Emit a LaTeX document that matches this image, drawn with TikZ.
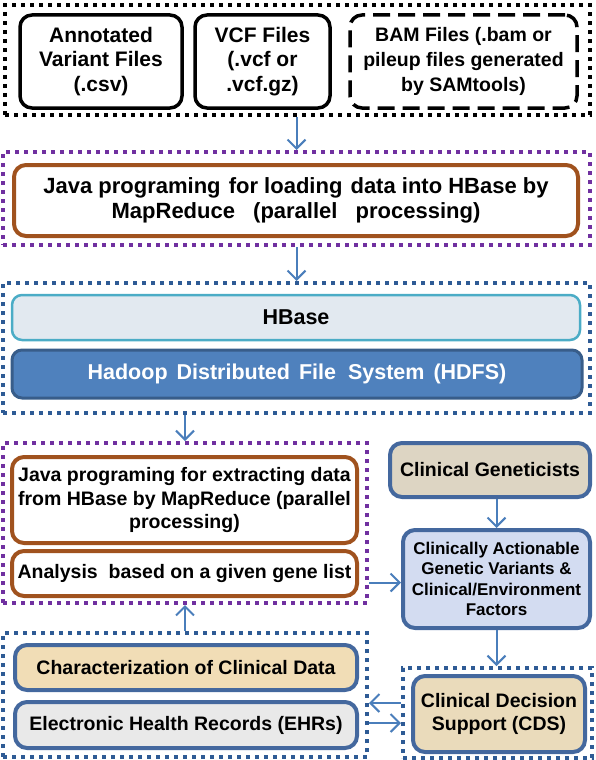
\documentclass[tikz,border=0pt]{standalone}
\usepackage{fontspec}
\setmainfont{Liberation Sans}
\usetikzlibrary{arrows.meta}
\definecolor{pur}{HTML}{7030A0}
\definecolor{dblue}{HTML}{2E5B95}
\definecolor{brn}{HTML}{A0521E}
\definecolor{arr}{HTML}{4A7EBB}
\definecolor{clb}{HTML}{44689E}
\definecolor{cyanb}{HTML}{4BACC6}
\definecolor{hbfill}{HTML}{E2E9F0}
\definecolor{hdfsfill}{HTML}{4F81BD}
\definecolor{hdfsdraw}{HTML}{385D8A}
\definecolor{tan}{HTML}{DDD5C3}
\definecolor{peach}{HTML}{F1DDB6}
\definecolor{cdsfill}{HTML}{EADBBB}
\definecolor{ehrfill}{HTML}{E9E9E9}
\definecolor{cavfill}{HTML}{D3DCF1}
\tikzset{
  outerbox/.style={draw, line width=4pt, dash pattern=on 4pt off 5pt, minimum width=#1},
  filebox/.style={draw=black, line width=3.5pt, rounded corners=12pt, align=center, font=\fontsize{21}{24.5}\selectfont\bfseries},
  brownbox/.style={draw=brn, line width=4pt, rounded corners=12pt, align=center, font=\fontsize{19.5}{23.5}\selectfont\bfseries},
  clinbox/.style={draw=clb, line width=4pt, rounded corners=12pt, align=center, font=\fontsize{19.5}{21}\selectfont\bfseries},
  flow/.style={draw=arr, line width=2pt, -{Straight Barb[length=9pt,width=18pt,line width=2pt]}},
}
\begin{document}
\begin{tikzpicture}[x=1pt,y=-1pt]
\useasboundingbox (0,0) rectangle (596,760);
% top group
\node[outerbox=585, draw=black, minimum height=110] (o1) at (297.5,60) {};
\node[filebox, minimum width=162, minimum height=93] (a1) at (101,61.5) {Annotated\\Variant Files\\(.csv)};
\node[filebox, minimum width=135, minimum height=93] (a2) at (262.5,61.5) {VCF Files\\(.vcf or\\.vcf.gz)};
\node[filebox, dash pattern=on 17pt off 8pt, minimum width=227, minimum height=93, font=\fontsize{19.5}{25}\selectfont\bfseries] (a3) at (463.5,61.5) {BAM Files (.bam or\\pileup files generated\\by SAMtools)};
% loading
\node[outerbox=587, draw=pur, minimum height=93] (o2) at (296.5,198.5) {};
\node[brownbox, minimum width=564, minimum height=71, font=\fontsize{22}{25}\selectfont\bfseries] (j1) at (296,200.5) {Java programing\hspace{2pt} for loading\hspace{2pt} data into HBase by\\MapReduce\hspace{12pt} (parallel\hspace{12pt} processing)};
% storage
\node[outerbox=587, draw=dblue, minimum height=130] (o3) at (296.5,348) {};
\node[draw=cyanb, fill=hbfill, line width=2.5pt, rounded corners=10pt, minimum width=568, minimum height=45, font=\fontsize{21.5}{24}\selectfont\bfseries] (hb) at (296,317.5) {HBase};
\node[draw=hdfsdraw, fill=hdfsfill, line width=3pt, rounded corners=10pt, minimum width=570, minimum height=48, text=white, font=\fontsize{21.5}{24}\selectfont\bfseries] (hd) at (297,374) {Hadoop\hspace{3pt} Distributed\hspace{3pt} File\hspace{6pt} System\hspace{3pt} (HDFS)};
% extraction
\node[outerbox=364, draw=pur, minimum height=160] (o4) at (185,523) {};
\node[brownbox, minimum width=345, minimum height=86] (j2) at (184.5,500) {Java programing for extracting data\\from HBase by MapReduce (parallel\\processing)};
\node[brownbox, minimum width=345, minimum height=45] (an) at (184.5,573.5) {Analysis\ \ based on a given gene list};
% clinical
\node[clinbox, fill=tan, minimum width=200, minimum height=54] (cg) at (490,470) {Clinical Geneticists};
\node[clinbox, fill=cavfill, minimum width=187, minimum height=98, font=\fontsize{17}{20.5}\selectfont\bfseries] (cav) at (496.5,579) {Clinically Actionable\\Genetic Variants \&\\Clinical/Environment\\Factors};
% clinical data
\node[outerbox=364, draw=dblue, minimum height=124] (o5) at (185,695) {};
\node[clinbox, fill=peach, minimum width=342, minimum height=45] (ch) at (186,667.5) {Characterization of Clinical Data};
\node[clinbox, fill=ehrfill, minimum width=342, minimum height=46] (ehr) at (186,725) {Electronic Health Records (EHRs)};
% CDS
\node[outerbox=189, draw=dblue, minimum height=90] (o6) at (497.5,713) {};
\node[clinbox, fill=cdsfill, minimum width=172, minimum height=76, font=\fontsize{19.5}{23.5}\selectfont\bfseries] (cds) at (499,714) {Clinical Decision\\Support (CDS)};
% connectors
\draw[flow] (o2.north |- o1.south) -- (o2.north);
\draw[flow] (o2.south) -- (o3.north);
\draw[flow] (o4.north |- o3.south) -- (o4.north);
\draw[flow] (o5.north) -- (o4.south);
\draw[flow] (cav.north |- cg.south) -- (cav.north);
\draw[flow] (cav.south) -- (cav.south |- o6.north);
\draw[flow] ([yshift=-9]o4.east |- an.east) -- ([yshift=-9]cav.west |- an.east);
\draw[flow] ([yshift=10]o6.west) -- ([yshift=10]o5.east |- o6.west);
\draw[flow] ([yshift=-10]o5.east |- o6.west) -- ([yshift=-10]o6.west);
\end{tikzpicture}
\end{document}
